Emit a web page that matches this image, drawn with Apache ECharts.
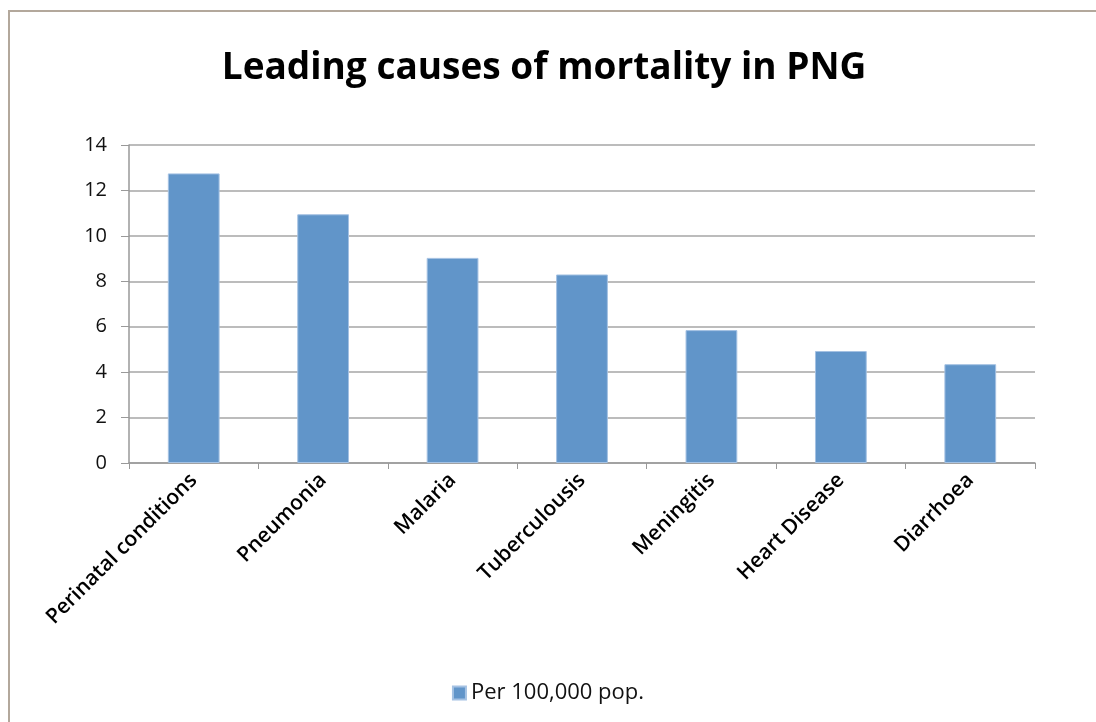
<!DOCTYPE html>
<html>
<head>
<meta charset="utf-8">
<script src="https://cdn.jsdelivr.net/npm/echarts@6/dist/echarts.min.js"></script>
<style>
html, body { margin: 0; padding: 0; background: #fff; }
#frame { position: absolute; left: 8px; top: 10px; width: 1100px; height: 720px; border-left: 2px solid #b3a89c; border-top: 2px solid #b3a89c; box-sizing: border-box; }
#chart { position: absolute; left: 0; top: 0; width: 1096px; height: 722px; }
</style>
</head>
<body>
<div id="frame"></div>
<div id="chart"></div>
<script>
var causes = ['Perinatal conditions', 'Pneumonia', 'Malaria', 'Tuberculousis', 'Meningitis', 'Heart Disease', 'Diarrhoea'];
var per100k = [12.75, 10.95, 9.03, 8.3, 5.85, 4.93, 4.35];
var seriesName = 'Per 100,000 pop.';

var myChart = echarts.init(document.getElementById('chart'));

myChart.setOption({
    animation: false,
    title: {
        text: 'Leading causes of mortality in PNG',
        left: 539,
        top: 45,
        textAlign: 'center',
        textStyle: { fontFamily: 'Open Sans', fontSize: 37, fontWeight: 'bold', color: '#000' }
    },
    legend: {
        top: 677,
        left: 'center',
        itemWidth: 13,
        itemHeight: 13,
        itemGap: 6,
        icon: 'rect',
        textStyle: { fontFamily: 'Open Sans', fontSize: 22, color: '#111' },
        data: [seriesName]
    },
    grid: { left: 129, right: 61, top: 145, bottom: 259 },
    xAxis: {
        type: 'category',
        data: causes,
        axisLine: { lineStyle: { color: '#999', width: 1.5 } },
        axisTick: { show: true, length: 6, lineStyle: { color: '#999' } },
        axisLabel: { rotate: 45, fontFamily: 'Open Sans', fontSize: 21, fontWeight: 600, color: '#000', margin: 14 }
    },
    yAxis: {
        type: 'value',
        min: 0,
        max: 14,
        interval: 2,
        axisLine: { show: true, lineStyle: { color: '#999', width: 1.5 } },
        axisTick: { show: true, length: 8, lineStyle: { color: '#999' } },
        splitLine: { lineStyle: { color: '#a6a6a6', width: 1.5 } },
        axisLabel: { fontFamily: 'Open Sans', fontSize: 20, color: '#111', margin: 22 }
    },
    series: [
        {
            name: seriesName,
            type: 'bar',
            data: per100k,
            barWidth: '40%',
            itemStyle: { color: '#6195c9', borderColor: '#a5c2e3', borderWidth: 1 }
        }
    ]
});
</script>
</body>
</html>
